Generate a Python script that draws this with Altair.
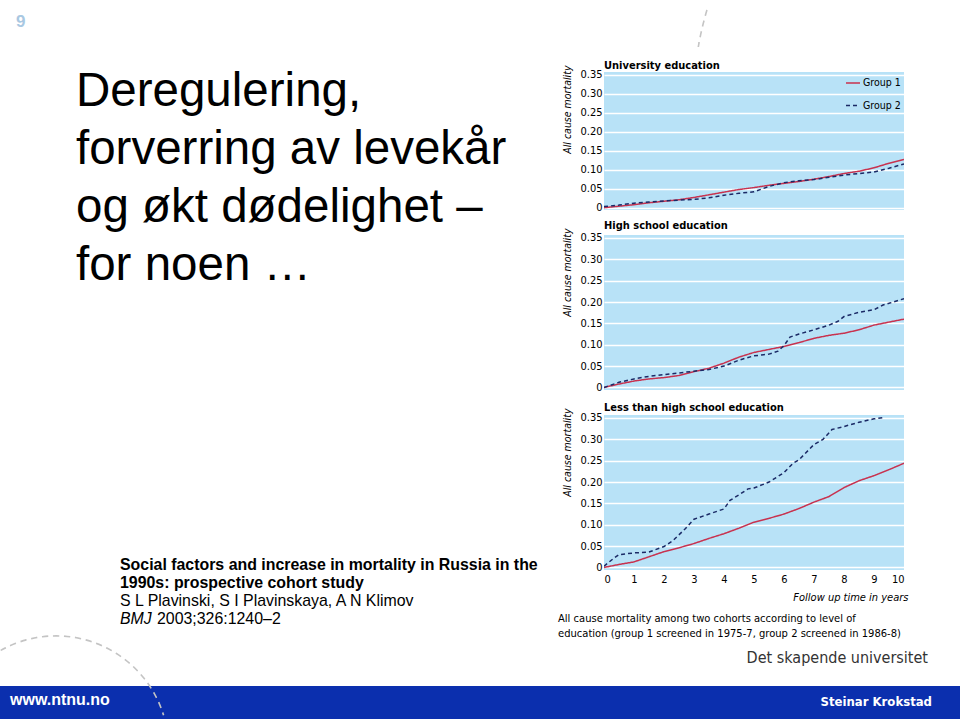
import altair as alt
import pandas as pd

# ---------------- data ----------------
panels = ["University education", "High school education", "Less than high school education"]
groups = ["Group 1", "Group 2"]

t_half = [0, 0.5, 1, 1.5, 2, 2.5, 3, 3.5, 4, 4.5, 5, 5.5, 6, 6.5, 7, 7.5, 8, 8.5, 9, 9.5, 10]

uni_g1_t = t_half
uni_g1_v = [0, 0.004, 0.008, 0.013, 0.017, 0.021, 0.027, 0.034, 0.041, 0.048, 0.053,
            0.059, 0.064, 0.069, 0.075, 0.082, 0.090, 0.096, 0.105, 0.117, 0.127]
uni_g2_t = t_half
uni_g2_v = [0.003, 0.007, 0.012, 0.015, 0.018, 0.020, 0.022, 0.026, 0.033, 0.038, 0.042,
            0.056, 0.066, 0.071, 0.074, 0.080, 0.086, 0.090, 0.094, 0.104, 0.115]

hs_g1_t = t_half
hs_g1_v = [0, 0.008, 0.015, 0.020, 0.023, 0.028, 0.037, 0.045, 0.057, 0.071, 0.082,
           0.089, 0.096, 0.105, 0.115, 0.122, 0.127, 0.135, 0.146, 0.153, 0.160]
hs_g2_t = [0, 0.5, 1, 1.5, 2, 2.5, 3, 3.5, 4, 4.5, 5, 5.5, 5.8, 6, 6.2, 6.5, 7, 7.5,
           7.8, 8, 8.3, 8.5, 9, 9.3, 9.5, 10]
hs_g2_v = [0, 0.012, 0.020, 0.026, 0.030, 0.034, 0.038, 0.042, 0.050, 0.064, 0.074,
           0.078, 0.085, 0.098, 0.118, 0.125, 0.135, 0.146, 0.155, 0.166, 0.172, 0.176,
           0.182, 0.193, 0.197, 0.208]

lt_g1_t = t_half
lt_g1_v = [0, 0.007, 0.013, 0.025, 0.037, 0.046, 0.056, 0.068, 0.079, 0.092, 0.106,
           0.115, 0.125, 0.138, 0.153, 0.166, 0.187, 0.203, 0.215, 0.229, 0.244]
lt_g2_t = [0, 0.3, 0.5, 1, 1.5, 2, 2.3, 2.7, 3, 3.5, 4, 4.2, 4.5, 4.8, 5, 5.5, 6, 6.3,
           6.5, 7, 7.3, 7.6, 8, 8.5, 9, 9.3]
lt_g2_v = [0.003, 0.020, 0.030, 0.034, 0.036, 0.049, 0.063, 0.090, 0.113, 0.125, 0.137,
           0.157, 0.170, 0.184, 0.186, 0.200, 0.222, 0.244, 0.252, 0.288, 0.300, 0.323,
           0.330, 0.340, 0.348, 0.351]

y_ticks = [0, 0.05, 0.10, 0.15, 0.20, 0.25, 0.30, 0.35]
x_ticks = [0, 1, 2, 3, 4, 5, 6, 7, 8, 9, 10]

slide_number = "9"
title_lines = ["Deregulering,", "forverring av levekår", "og økt dødelighet –", "for noen …"]
cite_bold = ["Social factors and increase in mortality in Russia in the",
             "1990s: prospective cohort study"]
cite_authors = "S L Plavinski, S I Plavinskaya, A N Klimov"
cite_journal = "BMJ"
cite_ref = "2003;326:1240–2"
caption_lines = ["All cause mortality among two cohorts according to level of",
                 "education (group 1 screened in 1975-7, group 2 screened in 1986-8)"]
y_title = "All cause mortality"
x_title = "Follow up time in years"
footer_left = "www.ntnu.no"
footer_right = "Steinar Krokstad"
tagline = "Det skapende universitet"

# ---------------- styles ----------------
NARROW = "Liberation Sans Narrow, DejaVu Sans Condensed, sans-serif"
SANS = "Liberation Sans, Arial, sans-serif"
BG = "#b8e2f7"
RED = "#c8324f"
NAVY = "#1b2a66"
FOOT = "#0b2fae"
DECOR = "#c4c4c4"


def frame(panel, series):
    rows = []
    for g, (ts, vs) in zip(groups, series):
        for t, v in zip(ts, vs):
            rows.append({"panel": panel, "group": g, "t": t, "v": v})
    return pd.DataFrame(rows)


df_uni = frame(panels[0], [(uni_g1_t, uni_g1_v), (uni_g2_t, uni_g2_v)])
df_hs = frame(panels[1], [(hs_g1_t, hs_g1_v), (hs_g2_t, hs_g2_v)])
df_lt = frame(panels[2], [(lt_g1_t, lt_g1_v), (lt_g2_t, lt_g2_v)])


def panel_chart(df, title, height, title_offset, show_legend, show_x):
    y_axis = alt.Axis(values=y_ticks, grid=True, gridColor="white", gridWidth=1.5,
                      ticks=False, domain=False, labelFont=NARROW, labelFontSize=11,
                      labelColor="black", labelPadding=2,
                      labelExpr="datum.value == 0 ? '0' : format(datum.value, '.2f')",
                      title=y_title, titleFont=NARROW, titleFontSize=10.5,
                      titleFontStyle="italic", titleFontWeight="normal", titleColor="black",
                      titleAngle=270, titleAlign="right", titleBaseline="middle",
                      titleX=-37, titleY=-7)
    if show_x:
        x_axis = alt.Axis(values=x_ticks, grid=False, ticks=False, domain=False,
                          labelFont=NARROW, labelFontSize=11, labelColor="black",
                          labelPadding=3, title=x_title, titleFont=NARROW,
                          titleFontSize=11, titleFontStyle="italic",
                          titleFontWeight="normal", titleColor="black",
                          titleAlign="right", titleBaseline="alphabetic",
                          titleX=304, titleY=30)
    else:
        x_axis = alt.Axis(values=x_ticks, grid=False, ticks=False, domain=False,
                          labels=False, title=None)
    if show_legend:
        legend = alt.Legend(orient="none", legendX=241, legendY=3, title=None,
                            symbolType="stroke", symbolSize=196, symbolStrokeWidth=1.5,
                            labelFont=NARROW, labelFontSize=10.5, labelColor="black",
                            padding=0, rowPadding=8.5, labelOffset=2)
    else:
        legend = None
    color_kw = dict(scale=alt.Scale(domain=groups, range=[RED, NAVY]))
    dash_kw = dict(scale=alt.Scale(domain=groups, range=[[1, 0], [4, 3]]))
    if legend is None:
        color = alt.Color("group:N", legend=None, **color_kw)
        dash = alt.StrokeDash("group:N", legend=None, **dash_kw)
    else:
        color = alt.Color("group:N", legend=legend, **color_kw)
        dash = alt.StrokeDash("group:N", legend=legend, **dash_kw)
    return alt.Chart(df).mark_line(strokeWidth=1.5, clip=True).encode(
        x=alt.X("t:Q", scale=alt.Scale(domain=[0, 10], nice=False), axis=x_axis),
        y=alt.Y("v:Q", scale=alt.Scale(domain=[-0.006, 0.357], nice=False, zero=False),
                axis=y_axis),
        color=color,
        strokeDash=dash,
        order="t:Q",
    ).properties(
        width=300, height=height,
        title=alt.TitleParams(title, anchor="start", frame="group", font=NARROW,
                              fontSize=11, fontWeight="bold", color="black",
                              offset=title_offset, dy=17, baseline="alphabetic"),
        view=alt.ViewBackground(fill=BG, stroke=None),
    )


p1 = panel_chart(df_uni, panels[0], 138, 2, True, False)
p2 = panel_chart(df_hs, panels[1], 155, 5, False, False)
p3 = panel_chart(df_lt, panels[2], 155, 3, False, True)

dummy = pd.DataFrame({"a": [0]})
base = alt.Chart(dummy)


def decor_arc(cx, cy, r, t0, t1):
    return base.mark_arc(filled=False, stroke=DECOR, strokeWidth=1.6, clip=True,
                         strokeDash=[6, 5]).encode(
        x=alt.value(cx), y=alt.value(cy), radius=alt.value(r), radius2=alt.value(r),
        theta=alt.value(t0), theta2=alt.value(t1))


spacer = alt.layer(
    base.mark_point(opacity=0).encode(x=alt.value(0), y=alt.value(0)),
    decor_arc(395, 95, 305, 4.877, 5.013),
).properties(width=300, height=44)

right = alt.vconcat(spacer, p1, p2, p3, spacing=25, bounds="flush").resolve_legend(
    color="independent", strokeDash="independent")


def txt(s, x, y, size, font=SANS, weight="normal", style="normal", color="black",
        align="left"):
    return base.mark_text(text=s, align=align, baseline="alphabetic", font=font,
                          fontSize=size, fontWeight=weight, fontStyle=style,
                          color=color).encode(x=alt.value(x), y=alt.value(y))


layers = []
layers.append(base.mark_rect(color=FOOT).encode(
    x=alt.value(0), x2=alt.value(960), y=alt.value(683), y2=alt.value(716)))
layers.append(decor_arc(56, 745.5, 112.6, 5.77, 7.555))
layers.append(txt(slide_number, 16, 24, 17, weight="bold", color="#a9c8e2"))
for i, line in enumerate(title_lines):
    layers.append(txt(line, 76, 103 + 58 * i, 47.5))
for i, line in enumerate(cite_bold):
    layers.append(txt(line, 120, 567 + 18 * i, 15.9, weight="bold"))
layers.append(txt(cite_authors, 120, 603, 15.9))
layers.append(txt(cite_journal, 120, 621, 15.9, style="italic"))
layers.append(txt(cite_ref, 157, 621, 15.9))
for i, line in enumerate(caption_lines):
    layers.append(txt(line, 558, 619 + 15 * i, 11.1, font=NARROW))
layers.append(txt(tagline, 928, 660, 16, font=NARROW, color="#333333", align="right"))
layers.append(txt(footer_left, 10, 702, 16, weight="bold", color="white"))
layers.append(txt(footer_right, 932, 703, 13, font=NARROW, weight="bold",
                  color="white", align="right"))

left = alt.layer(*layers).properties(width=604, height=720)

chart = alt.hconcat(left, right, spacing=0, bounds="flush").resolve_legend(
    color="independent", strokeDash="independent"
).properties(padding=0, background="white").configure_view(stroke=None)

chart.save("out.html", embed_options={"renderer": "svg", "actions": False})
